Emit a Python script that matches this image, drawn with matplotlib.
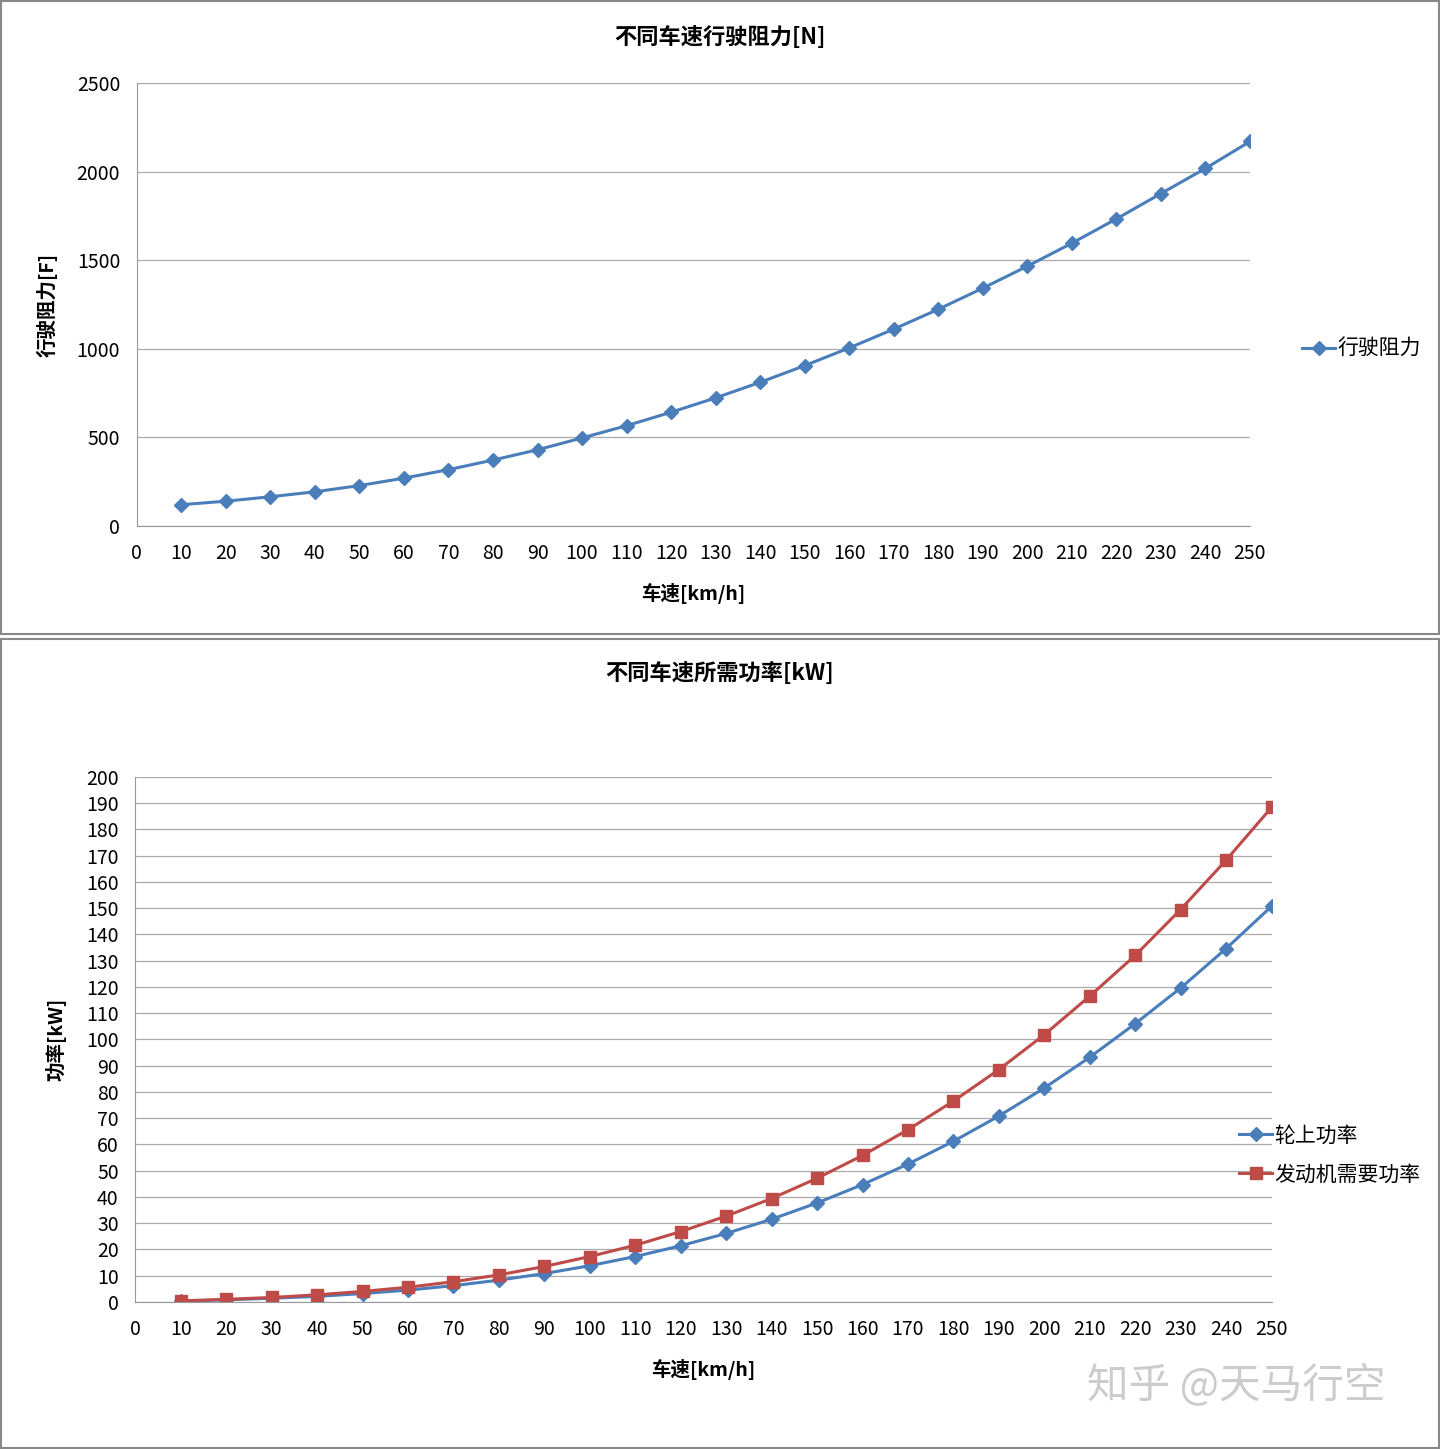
import matplotlib.pyplot as plt
from matplotlib.patches import Rectangle

plt.rcParams['font.family'] = ['Noto Sans CJK SC', 'DejaVu Sans']

speed = list(range(10, 260, 10))
resistance = [120, 140, 165, 193, 228, 270, 318, 372, 430, 497, 566, 642, 723,
              811, 905, 1005, 1111, 1223, 1342, 1466, 1596, 1733, 1876, 2018, 2170]
wheel_power = [0.3, 0.8, 1.4, 2.1, 3.2, 4.5, 6.2, 8.3, 10.8, 13.8, 17.3, 21.4, 26.1,
               31.5, 37.7, 44.7, 52.5, 61.2, 70.8, 81.5, 93.2, 106, 119.6, 134.6, 150.7]
engine_power = [0.4, 1.0, 1.7, 2.7, 4.0, 5.6, 7.7, 10.3, 13.5, 17.3, 21.6, 26.8, 32.7,
                39.4, 47.1, 55.8, 65.6, 76.5, 88.5, 101.8, 116.5, 132, 149.5, 168.3, 188.4]

BLUE = '#4A7EBB'
RED = '#BE4B48'

fig = plt.figure(figsize=(14.4, 14.49), dpi=100)
fig.patches.append(Rectangle((0.001, 0.5625), 0.998, 0.4365, transform=fig.transFigure,
                             fill=False, edgecolor='#888888', lw=1.5))
fig.patches.append(Rectangle((0.001, 0.001), 0.998, 0.558, transform=fig.transFigure,
                             fill=False, edgecolor='#888888', lw=1.5))


def style(ax, yticks):
    ax.set_xlim(0, 250)
    ax.set_xticks(range(0, 260, 10))
    ax.set_yticks(yticks)
    ax.grid(axis='y', color='#aaaaaa', lw=0.9)
    ax.set_axisbelow(True)
    for s in ['top', 'right']:
        ax.spines[s].set_visible(False)
    for s in ['left', 'bottom']:
        ax.spines[s].set_color('#999999')
    ax.tick_params(labelsize=14, length=0, pad=12)


ax1 = fig.add_axes([0.095, 0.637, 0.773, 0.3057])
ax1.plot(speed, resistance, color=BLUE, lw=2.2, marker='D', ms=7, label='行驶阻力')
ax1.set_ylim(0, 2500)
style(ax1, range(0, 2501, 500))
fig.text(0.5, 1 - 38 / 1449, '不同车速行驶阻力[N]', fontsize=16, fontweight='bold',
         ha='center', va='center')
ax1.set_xlabel('车速[km/h]', fontsize=14, fontweight='bold', labelpad=14)
ax1.set_ylabel('行驶阻力[F]', fontsize=14, fontweight='bold', labelpad=14)
ax1.legend(loc='center left', bbox_to_anchor=(1.03, 0.4), frameon=False,
           fontsize=15, handlelength=1.6, handletextpad=0.1)

ax2 = fig.add_axes([0.094, 0.1015, 0.789, 0.3623])
ax2.plot(speed, wheel_power, color=BLUE, lw=2.2, marker='D', ms=7, label='轮上功率')
ax2.plot(speed, engine_power, color=RED, lw=2.2, marker='s', ms=9, label='发动机需要功率')
ax2.set_ylim(0, 200)
style(ax2, range(0, 201, 10))
fig.text(0.5, 1 - 673 / 1449, '不同车速所需功率[kW]', fontsize=16, fontweight='bold',
         ha='center', va='center')
ax2.set_xlabel('车速[km/h]', fontsize=14, fontweight='bold', labelpad=14)
ax2.set_ylabel('功率[kW]', fontsize=14, fontweight='bold', labelpad=14)
ax2.legend(loc='center left', bbox_to_anchor=(0.955, 0.28), frameon=False,
           fontsize=15, handlelength=1.6, handletextpad=0.1, labelspacing=0.8)

fig.text(0.755, 0.035, '知乎 @天马行空', fontsize=30, color='#cccccc')

fig.savefig('out.png')
